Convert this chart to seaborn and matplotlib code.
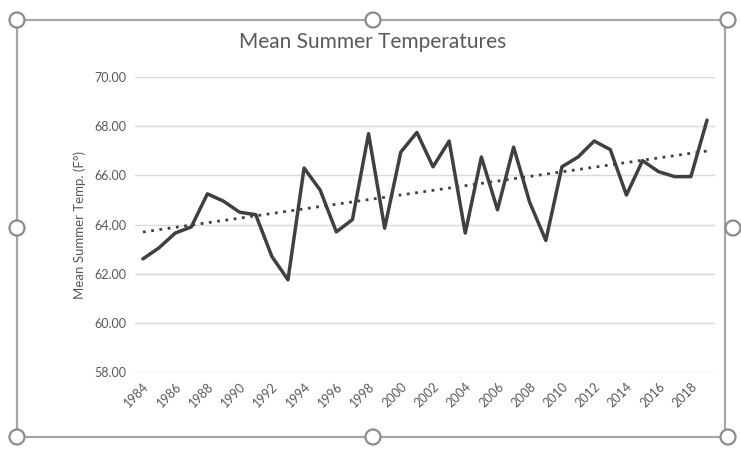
import matplotlib
matplotlib.use("Agg")
import matplotlib.pyplot as plt
import seaborn as sns
import pandas as pd
from matplotlib.patches import Rectangle, Ellipse

# Mean summer temperatures
years = list(range(1984, 2020))
temps = [62.6, 63.05, 63.65, 63.9, 65.25, 64.95, 64.5, 64.4, 62.7, 61.75,
         66.3, 65.4, 63.7, 64.2, 67.7, 63.85, 66.95, 67.75, 66.35, 67.4,
         63.65, 66.75, 64.6, 67.15, 64.9, 63.35, 66.35, 66.75, 67.4, 67.05,
         65.2, 66.6, 66.15, 65.95, 65.95, 68.25]
tick_years = list(range(1984, 2019, 2))
y_ticks = [58, 60, 62, 64, 66, 68, 70]

df = pd.DataFrame({"year": years, "temp": temps})

sns.set_style("white")
plt.rcParams['font.family'] = ['Lato', 'DejaVu Sans']

fig = plt.figure(figsize=(7.41, 4.54), dpi=100)
ax = fig.add_axes([0.182, 0.181, 0.783, 0.649])

line_col = "#404040"
sns.lineplot(data=df, x="year", y="temp", ax=ax, color=line_col, linewidth=2.5)
# linear trendline, like Excel's
sns.regplot(data=df, x="year", y="temp", ax=ax, scatter=False, ci=None,
            line_kws={"color": line_col, "linestyle": (0, (1, 2)), "linewidth": 2})

ax.set_xlim(1983.5, 2019.5)
ax.set_ylim(58, 70)
ax.set_yticks(y_ticks)
ax.set_yticklabels([f"{v:.2f}" for v in y_ticks])
ax.set_xticks(tick_years)
ax.set_xticklabels([str(y) for y in tick_years], rotation=45, ha="right",
                   rotation_mode="anchor")
ax.tick_params(axis="both", colors="#595959", labelsize=9, length=0, pad=6)
ax.grid(axis="y", color="#d9d9d9", linewidth=1)
for s in ax.spines.values():
    s.set_visible(False)
ax.set_xlabel("")
ax.set_ylabel("Mean Summer Temp. (F°)", color="#595959", fontsize=9.5, labelpad=6)
fig.text(0.503, 0.908, "Mean Summer Temperatures", ha="center", va="center",
         fontsize=15, color="#595959")

# chart selection frame with handles
W, H = 741, 454
frame = Rectangle((17 / W, 1 - 437 / H), (725 - 17) / W, (437 - 20) / H,
                  transform=fig.transFigure, fill=False, edgecolor="#a6a6a6",
                  linewidth=1.6)
fig.patches.append(frame)
for hx, hy in [(17, 20), (373, 20), (728, 20), (17, 228), (733, 228),
               (17, 437), (373, 437), (728, 437)]:
    e = Ellipse((hx / W, 1 - hy / H), 15 / W, 15 / H, transform=fig.transFigure,
                facecolor="white", edgecolor="#8c8c8c", linewidth=1.6)
    fig.patches.append(e)

fig.savefig("out.png", dpi=100)
